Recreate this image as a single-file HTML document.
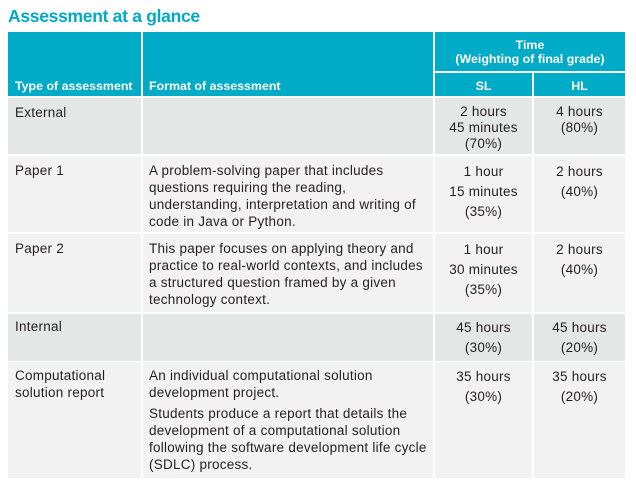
<!DOCTYPE html>
<html><head><meta charset="utf-8"><style>
body{margin:0;width:636px;height:497px;background:#fff;position:relative;font-family:"Liberation Sans",sans-serif;overflow:hidden}
.r{position:absolute}
.t{position:absolute;font-size:13.5px;letter-spacing:0.25px;line-height:17px;color:#231f20;white-space:nowrap}
.c{text-align:center}
.h{position:absolute;font-size:12.4px;font-weight:bold;color:#fff;white-space:nowrap;line-height:14px}
</style></head><body>
<div class="r" style="left:8px;top:6px;font-size:17.5px;font-weight:bold;color:#00a9c6;letter-spacing:-0.3px">Assessment at a glance</div>
<!-- header -->
<div class="r" style="left:8px;top:32px;width:133px;height:64px;background:#00abc7"></div>
<div class="r" style="left:143px;top:32px;width:290px;height:64px;background:#00abc7"></div>
<div class="r" style="left:435px;top:32px;width:190px;height:39px;background:#00abc7"></div>
<div class="r" style="left:435px;top:73px;width:97px;height:23px;background:#00abc7"></div>
<div class="r" style="left:534px;top:73px;width:91px;height:23px;background:#00abc7"></div>
<div class="h" style="left:15px;top:79px">Type of assessment</div>
<div class="h" style="left:149px;top:79px">Format of assessment</div>
<div class="h c" style="left:435px;width:190px;top:38px">Time<br>(Weighting of final grade)</div>
<div class="h c" style="left:435px;width:97px;top:79px">SL</div>
<div class="h c" style="left:534px;width:91px;top:79px">HL</div>
<!-- row backgrounds -->
<div class="r" style="left:8px;top:98px;width:133px;height:56px;background:#e5e6e6"></div>
<div class="r" style="left:143px;top:98px;width:290px;height:56px;background:#e5e6e6"></div>
<div class="r" style="left:435px;top:98px;width:97px;height:56px;background:#e5e6e6"></div>
<div class="r" style="left:534px;top:98px;width:91px;height:56px;background:#e5e6e6"></div>

<div class="r" style="left:8px;top:156px;width:133px;height:76px;background:#f2f2f2"></div>
<div class="r" style="left:143px;top:156px;width:290px;height:76px;background:#f2f2f2"></div>
<div class="r" style="left:435px;top:156px;width:97px;height:76px;background:#f2f2f2"></div>
<div class="r" style="left:534px;top:156px;width:91px;height:76px;background:#f2f2f2"></div>

<div class="r" style="left:8px;top:234px;width:133px;height:78px;background:#f2f2f2"></div>
<div class="r" style="left:143px;top:234px;width:290px;height:78px;background:#f2f2f2"></div>
<div class="r" style="left:435px;top:234px;width:97px;height:78px;background:#f2f2f2"></div>
<div class="r" style="left:534px;top:234px;width:91px;height:78px;background:#f2f2f2"></div>

<div class="r" style="left:8px;top:314px;width:133px;height:47px;background:#e5e6e6"></div>
<div class="r" style="left:143px;top:314px;width:290px;height:47px;background:#e5e6e6"></div>
<div class="r" style="left:435px;top:314px;width:97px;height:47px;background:#e5e6e6"></div>
<div class="r" style="left:534px;top:314px;width:91px;height:47px;background:#e5e6e6"></div>

<div class="r" style="left:8px;top:362px;width:133px;height:116px;background:#f2f2f2"></div>
<div class="r" style="left:143px;top:362px;width:290px;height:116px;background:#f2f2f2"></div>
<div class="r" style="left:435px;top:362px;width:97px;height:116px;background:#f2f2f2"></div>
<div class="r" style="left:534px;top:362px;width:91px;height:116px;background:#f2f2f2"></div>

<!-- External -->
<div class="t" style="left:15px;top:104px">External</div>
<div class="t c" style="left:435px;width:97px;top:104px;line-height:16px">2 hours<br>45 minutes<br>(70%)</div>
<div class="t c" style="left:534px;width:91px;top:104px;line-height:16px">4 hours<br>(80%)</div>
<!-- Paper 1 -->
<div class="t" style="left:15px;top:162px">Paper 1</div>
<div class="t" style="left:149px;top:162px">A problem-solving paper that includes<br>questions requiring the reading,<br>understanding, interpretation and writing of<br>code in Java or Python.</div>
<div class="t c" style="left:435px;width:97px;top:162px;line-height:20px">1 hour<br>15 minutes<br>(35%)</div>
<div class="t c" style="left:534px;width:91px;top:162px;line-height:20px">2 hours<br>(40%)</div>
<!-- Paper 2 -->
<div class="t" style="left:15px;top:240px">Paper 2</div>
<div class="t" style="left:149px;top:240px">This paper focuses on applying theory and<br>practice to real-world contexts, and includes<br>a structured question framed by a given<br>technology context.</div>
<div class="t c" style="left:435px;width:97px;top:240px;line-height:20px">1 hour<br>30 minutes<br>(35%)</div>
<div class="t c" style="left:534px;width:91px;top:240px;line-height:20px">2 hours<br>(40%)</div>
<!-- Internal -->
<div class="t" style="left:15px;top:318px">Internal</div>
<div class="t c" style="left:435px;width:97px;top:318px;line-height:20px">45 hours<br>(30%)</div>
<div class="t c" style="left:534px;width:91px;top:318px;line-height:20px">45 hours<br>(20%)</div>
<!-- Computational -->
<div class="t" style="left:15px;top:367px">Computational<br>solution report</div>
<div class="t" style="left:149px;top:367px">An individual computational solution<br>development project.</div>
<div class="t" style="left:149px;top:405px">Students produce a report that details the<br>development of a computational solution<br>following the software development life cycle<br>(SDLC) process.</div>
<div class="t c" style="left:435px;width:97px;top:367px;line-height:20px">35 hours<br>(30%)</div>
<div class="t c" style="left:534px;width:91px;top:367px;line-height:20px">35 hours<br>(20%)</div>
</body></html>
